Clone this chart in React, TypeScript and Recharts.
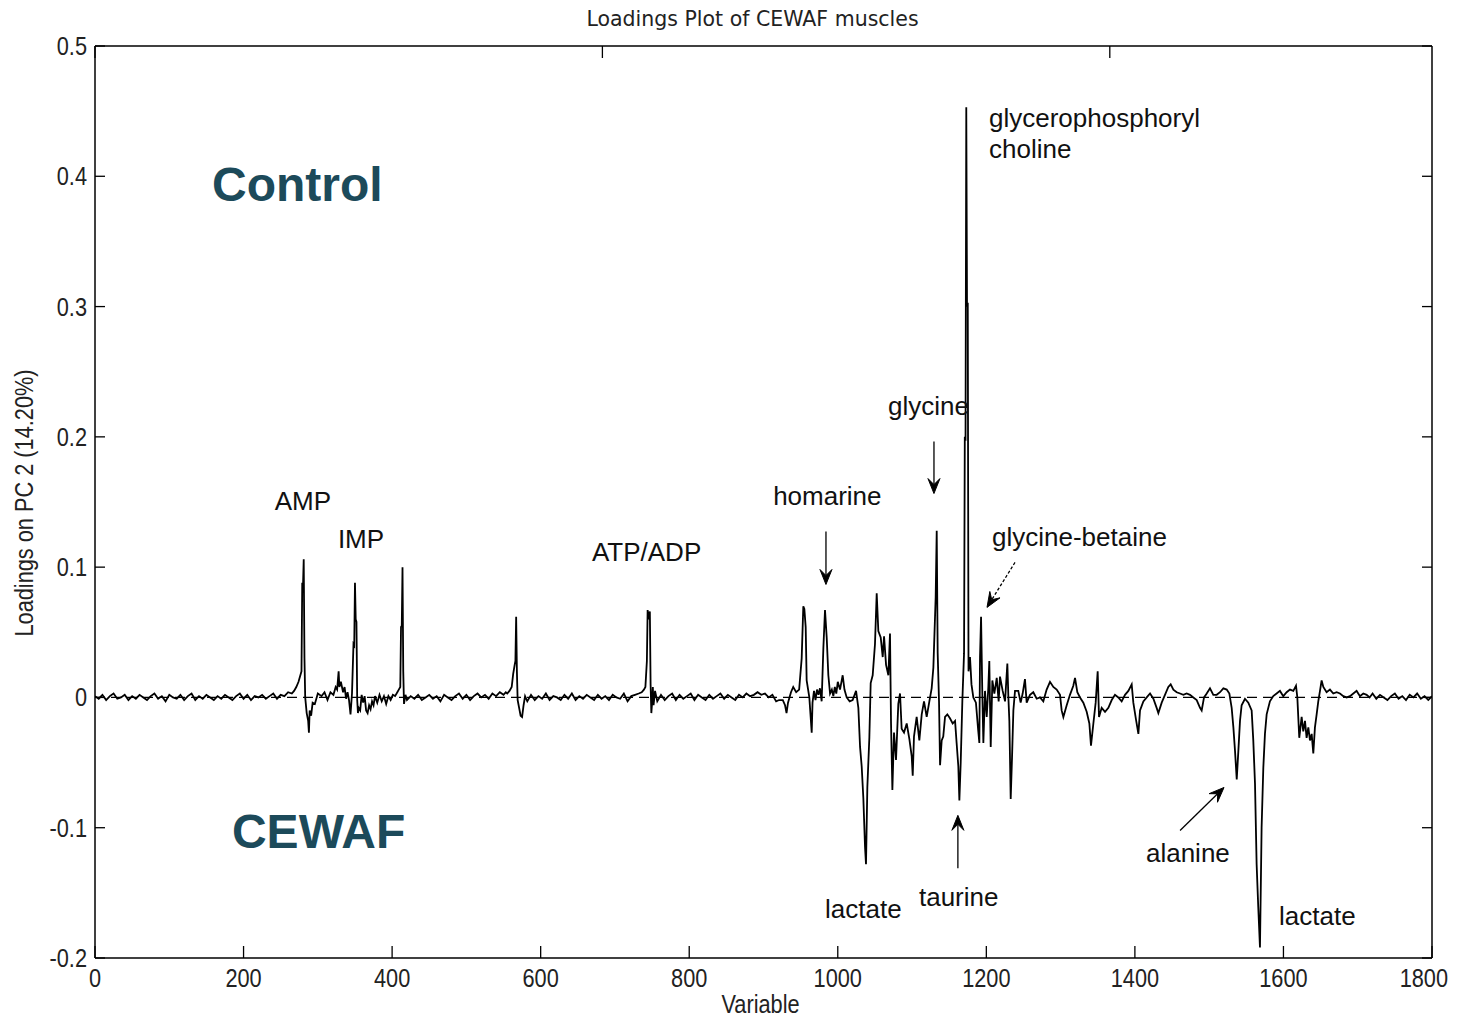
import React from 'react';
import { LineChart, Line, XAxis, YAxis, ReferenceLine, ReferenceDot } from 'recharts';

// ---------- tick values / labels ----------
const xTicks = [0, 200, 400, 600, 800, 1000, 1200, 1400, 1600, 1800];
const xTickLabels = ['0', '200', '400', '600', '800', '1000', '1200', '1400', '1600', '1800'];
const yTicks = [-0.2, -0.1, 0, 0.1, 0.2, 0.3, 0.4, 0.5];
const yTickLabels = ['-0.2', '-0.1', '0', '0.1', '0.2', '0.3', '0.4', '0.5'];

// ---------- loadings on PC2 [variable, loading] ----------
const quietStart: [number, number][] = [
  [0, 0.001], [5, -0.001], [10, 0.002], [15, -0.002], [20, 0.001], [25, 0.003], [30, -0.001], [35, 0], [40, 0.002], [45, -0.002],
  [50, 0.001], [55, -0.001], [60, 0.002], [65, 0], [70, -0.002], [75, 0.001], [80, 0.003], [85, -0.001], [90, 0.001], [95, -0.003],
  [100, 0.002], [105, 0], [110, -0.001], [115, 0.002], [120, -0.002], [125, 0.001], [130, 0.003], [135, -0.002], [140, 0.001], [145, -0.001],
  [150, 0.002], [155, 0], [160, -0.002], [165, 0.001], [170, -0.001], [175, 0.002], [180, 0], [185, -0.002], [190, 0.001], [195, 0.003],
  [200, -0.001], [205, 0.002], [210, -0.002], [215, 0.001], [220, 0], [225, 0.002], [230, -0.001], [235, 0.001], [240, 0.003], [245, -0.001],
  [250, 0.002], [255, 0.001], [260, 0.004], [265, 0.003],
];

const nucleotideRegion: [number, number][] = [
  [268, 0.005], [271, 0.008], [274, 0.012], [276, 0.016], [278, 0.02], [279, 0.088], [280, 0.085], [281, 0.106], [282, 0.03], [283, 0],
  [285, -0.012], [287, -0.018], [288, -0.027], [289, -0.01], [291, -0.014], [293, -0.004], [296, -0.005], [300, 0.003], [305, 0.001], [309, 0.004],
  [313, -0.002], [317, 0.004], [321, 0.002], [324, 0.008], [326, 0.006], [328, 0.02], [329, 0.008], [331, 0.012], [334, 0.004], [336, 0.008],
  [338, -0.001], [340, 0.004], [342, -0.002], [344, -0.013], [346, 0.003], [348, 0.041], [349, 0.04], [350, 0.088], [351, 0.06], [352, 0.058],
  [353, -0.002], [354, -0.012], [355, -0.008], [357, -0.01], [359, 0.002], [361, -0.004], [363, 0.001], [365, -0.01], [367, -0.012], [369, -0.006],
  [371, -0.009], [373, -0.003], [375, -0.006], [377, 0.001], [380, -0.004], [383, 0.002], [386, -0.003], [389, 0.001], [392, -0.005], [395, 0.001],
  [398, -0.002], [401, 0.002], [404, 0.001], [407, 0.004], [409, 0.006], [411, 0.008], [412, 0.054], [413, 0.055], [414, 0.1], [415, 0.02],
  [416, -0.005], [418, 0.002],
];

const quietMid1: [number, number][] = [
  [420, -0.002], [425, 0.001], [430, -0.001], [435, 0.002], [440, -0.002], [445, 0], [450, 0.002], [455, -0.001], [460, 0.001], [465, -0.003],
  [470, 0.002], [475, 0], [480, -0.002], [485, 0.001], [490, 0.003], [495, -0.001], [500, 0.002], [505, -0.002], [510, 0.001], [515, 0.003],
  [520, 0], [525, 0.002], [530, -0.001], [535, 0.003], [540, 0.001], [545, 0.004], [550, 0.002], [553, 0.004],
];

const peak567: [number, number][] = [
  [555, 0.003], [558, 0.005], [561, 0.008], [563, 0.018], [565, 0.025], [566, 0.028], [567, 0.062], [568, 0.02], [569, -0.002], [571, -0.008],
  [573, -0.014], [575, -0.015], [577, -0.006], [579, 0.001],
];

const quietMid2: [number, number][] = [
  [582, -0.003], [587, 0.002], [592, -0.002], [597, 0.001], [602, -0.001], [607, 0.003], [612, -0.002], [617, 0.001], [622, 0], [627, -0.002],
  [632, 0.002], [637, -0.001], [642, 0.003], [647, -0.002], [652, 0.001], [657, -0.001], [662, 0.002], [667, 0], [672, -0.002], [677, 0.002],
  [682, -0.001], [687, 0.001], [692, -0.002], [697, 0.002], [702, 0], [707, -0.001], [712, 0.003], [717, -0.003], [722, 0.001], [727, 0.002],
  [732, 0.003],
];

const atpRegion: [number, number][] = [
  [736, 0.004], [739, 0.006], [741, 0.008], [743, 0.028], [744, 0.067], [746, 0.06], [747, 0.066], [748, 0.01], [749, -0.012], [750, -0.004],
  [751, 0.008], [752, -0.006],
];

const quietMid3: [number, number][] = [
  [754, 0.005], [757, -0.003], [762, 0.002], [767, -0.002], [772, 0.001], [777, 0.003], [782, -0.002], [787, 0.002], [792, -0.001], [797, 0.001],
  [802, 0.003], [807, -0.002], [812, 0.002], [817, 0], [822, -0.002], [827, 0.002], [832, -0.001], [837, 0.001], [842, 0.003], [847, -0.001],
  [852, 0.002], [857, 0], [862, -0.002], [867, 0.002], [872, 0], [877, 0.003], [882, 0.001], [887, 0.002], [892, 0.004], [897, 0.002],
  [902, 0.003], [907, 0], [912, 0.002], [917, -0.003], [921, -0.002], [926, -0.002], [929, -0.006], [931, -0.012], [933, -0.004], [935, 0],
];

const muscleRegion: [number, number][] = [
  [937, 0.004], [940, 0.008], [944, 0.004], [948, 0.006], [951.4, 0.03], [953.6, 0.07], [955, 0.068], [956.8, 0.054], [958.1, 0.013], [961.7, 0],
  [964.9, -0.027], [966, -0.004], [968, 0.005], [970, -0.002], [972, 0.006], [974, 0.002], [976, 0.007], [978.3, -0.003], [980.6, 0.038], [982.8, 0.067],
  [985.1, 0.046], [987.3, 0.017], [989.6, 0.003], [992, 0.006], [994, 0.001], [996, 0.008], [998, 0.003], [1000, 0.012], [1003, 0.006], [1006.6, 0.017],
  [1009, 0.006], [1012, 0], [1016, -0.003], [1020, -0.002], [1024.6, 0.005], [1027.7, -0.008], [1030, -0.038], [1032.2, -0.053], [1034.4, -0.077], [1036.7, -0.115],
  [1038, -0.128], [1039.8, -0.069], [1042.5, -0.031], [1044.3, 0.011], [1047, 0.017], [1050.1, 0.041], [1052.4, 0.08], [1054.6, 0.051], [1057.8, 0.046], [1060.5, 0.031],
  [1062.3, 0.047], [1065, 0.025], [1068.1, 0.017], [1070.3, 0.049], [1071.7, -0.02], [1073.5, -0.071], [1075.7, -0.027], [1078.4, -0.048], [1081.5, -0.005], [1083.8, 0.003],
  [1086, -0.024], [1089.2, -0.027], [1092.8, -0.02], [1096.4, -0.032], [1099.5, -0.045], [1100.9, -0.06], [1102.6, -0.03], [1106.2, -0.015], [1109.8, -0.033], [1113, -0.013],
  [1116.1, -0.003], [1119.7, -0.015], [1123.3, -0.003], [1126.4, 0.007], [1128.7, 0.023], [1131.8, 0.077], [1133.2, 0.128], [1134.5, 0.034], [1136.3, -0.003], [1137.7, -0.052],
  [1139.9, -0.033], [1142, -0.03], [1144.4, -0.015], [1147.5, -0.013], [1151, -0.016], [1154.7, -0.02], [1157.9, -0.018], [1160, -0.035], [1162.3, -0.053], [1163.7, -0.079],
  [1165.5, -0.05], [1167.7, -0.003], [1170, 0.034], [1171, 0.2], [1172, 0.197], [1173, 0.453], [1174, 0.3], [1175, 0.303], [1176, 0.02], [1178, 0.031],
  [1180, 0.01], [1182.5, 0], [1186, -0.004], [1189, -0.025], [1190.6, -0.035], [1191.5, 0.031], [1192.9, 0.062], [1194.6, 0.003], [1196, -0.035], [1198.2, 0.005],
  [1200.5, -0.015], [1202.7, 0.008], [1204, 0.028], [1205.9, -0.038], [1208.1, 0.013], [1210.8, 0.003], [1214, 0.015], [1216.6, -0.003], [1218.4, 0.016], [1222, 0.005],
  [1225.2, -0.003], [1228.3, 0.026], [1229.7, 0], [1231, -0.018], [1232.8, -0.078], [1234.6, -0.046], [1236.4, -0.01], [1238.6, 0.005],
];

const lateRegion: [number, number][] = [
  [1243, 0.005], [1246.2, -0.004], [1248.9, 0.003], [1252, 0.014], [1254.3, -0.004], [1258.8, 0.002], [1263.2, 0.004], [1267.8, -0.001], [1272.3, 0], [1276.7, -0.003],
  [1281.2, 0.006], [1285.7, 0.012], [1290.2, 0.008], [1294.7, 0.006], [1299.2, 0.002], [1301.4, -0.01], [1303.7, -0.015], [1308.2, -0.006], [1312.6, 0.002], [1317.1, 0.009],
  [1319.4, 0.015], [1322.5, 0.004], [1326.1, 0], [1330.6, -0.004], [1335.1, -0.011], [1338.7, -0.02], [1340.9, -0.037], [1344.1, -0.02], [1347.2, -0.004], [1349.9, 0.02],
  [1351.7, -0.015], [1355.3, -0.008], [1359.8, -0.011], [1364.3, -0.008], [1368.8, -0.002], [1373.2, 0.002], [1377.7, 0], [1382.2, -0.003], [1386.7, 0.002], [1391.2, 0.005],
  [1395.7, 0.01], [1397.9, -0.004], [1401.5, -0.017], [1404.7, -0.028], [1406.9, -0.01], [1411.4, -0.003], [1415.9, 0], [1420.4, 0.003], [1424.9, -0.001], [1429.3, -0.008],
  [1431.6, -0.012], [1436.1, -0.004], [1440.5, 0.002], [1445, 0.008], [1448.2, 0.01], [1451.8, 0.006], [1456.3, 0.004], [1460.8, 0.003], [1465.2, 0.002], [1469.7, 0.003],
  [1474.2, 0.002], [1478.7, 0], [1483.2, -0.002], [1487.7, -0.008], [1489.9, -0.01], [1493.1, 0], [1496.7, 0.003], [1501.1, 0.007], [1505.6, 0.002], [1510.1, 0.002],
  [1514.6, 0.004], [1519.1, 0.007], [1523.6, 0.006], [1527.2, 0.003], [1530.3, -0.008], [1532.6, -0.023], [1534.8, -0.041], [1537.1, -0.063], [1539.3, -0.041], [1541.5, -0.018],
  [1543.7, -0.006], [1548.2, -0.001], [1552.7, -0.004], [1557.2, -0.01], [1559.4, -0.033], [1561.7, -0.066], [1563.9, -0.128], [1566.1, -0.161], [1568.4, -0.192], [1570.6, -0.1],
  [1572.9, -0.054], [1575.1, -0.028], [1577.4, -0.013], [1581.8, -0.003], [1586.3, 0.001], [1590.8, 0.003], [1595.3, 0.005], [1599.8, 0.001], [1604.3, 0.004], [1608.8, 0.006],
  [1613.3, 0.005], [1616.9, 0.009], [1618.7, 0], [1621.3, -0.031], [1624.5, -0.015], [1626.7, -0.026], [1629, -0.018], [1631.2, -0.031], [1633.5, -0.023], [1635.7, -0.033],
  [1638, -0.028], [1640.2, -0.043], [1642.4, -0.023], [1644.7, -0.013], [1646.9, -0.003], [1649.2, 0.005], [1651.4, 0.013], [1653.7, 0.008], [1658.1, 0.004], [1662.6, 0.006],
  [1667.1, 0.003], [1671.6, 0.004], [1676.1, 0.003], [1680.6, 0.001], [1685.1, 0], [1689.6, 0.001], [1694.1, 0.003], [1698.5, 0.005], [1703, 0.001], [1707.5, 0.003],
];

const quietEnd: [number, number][] = [
  [1712, 0.002], [1716, 0], [1720, 0.003], [1725, -0.001], [1730, 0.002], [1735, 0], [1740, -0.002], [1745, 0.001], [1750, 0.003], [1755, -0.001],
  [1760, 0.001], [1765, -0.002], [1770, 0.002], [1775, 0], [1780, 0.003], [1785, -0.001], [1790, 0.001], [1795, -0.002], [1800, 0.001],
];

// ---------- annotations (data coordinates) ----------
const metaboliteLabels = [
  { text: 'AMP', v: 242, y: 0.1435 },
  { text: 'IMP', v: 327, y: 0.1144 },
  { text: 'ATP/ADP', v: 669, y: 0.1044 },
  { text: 'homarine', v: 913, y: 0.148 },
  { text: 'glycine', v: 1067.6, y: 0.217 },
  { text: 'glycerophosphoryl', v: 1203.6, y: 0.4375 },
  { text: 'choline', v: 1203.6, y: 0.4144 },
  { text: 'glycine-betaine', v: 1207.6, y: 0.1159 },
  { text: 'lactate', v: 982.8, y: -0.1696 },
  { text: 'taurine', v: 1109.3, y: -0.1604 },
  { text: 'alanine', v: 1414.9, y: -0.1266 },
  { text: 'lactate', v: 1594, y: -0.175 },
];
const groupLabels = [
  { text: 'Control', v: 157.5, y: 0.3807 },
  { text: 'CEWAF', v: 184.4, y: -0.1159 },
];
const arrows = [
  { from: [984.1, 0.1274], to: [984.1, 0.0867], dashed: false },
  { from: [1129.5, 0.1964], to: [1129.5, 0.1565], dashed: false },
  { from: [1238.6, 0.1036], to: [1200.9, 0.0691], dashed: true },
  { from: [1161.7, -0.1312], to: [1161.7, -0.0905], dashed: false },
  { from: [1460.8, -0.1022], to: [1520, -0.0691], dashed: false },
];

const data = [
  ...quietStart, ...nucleotideRegion, ...quietMid1, ...peak567, ...quietMid2, ...atpRegion,
  ...quietMid3, ...muscleRegion, ...lateRegion, ...quietEnd,
].map(([v, y]) => ({ v, y }));

const SANS = "'Liberation Sans', Arial, sans-serif";
const NARROW_SCALE = 0.87;

// condensed-looking axis text (Liberation Sans squeezed horizontally)
const NarrowText = ({ x, y, anchor, rotate, children }: any) => (
  <g transform={`translate(${x},${y})${rotate ? ' rotate(-90)' : ''} scale(${NARROW_SCALE},1)`}>
    <text x={0} y={0} textAnchor={anchor} fontFamily={SANS} fontSize={25} fill="#222">
      {children}
    </text>
  </g>
);

const BottomTick = (p: any) => {
  const i = xTicks.indexOf(p.payload.value);
  const last = i === xTicks.length - 1;
  return (
    <g>
      <line x1={p.x} y1={p.y} x2={p.x} y2={p.y - 12} stroke="#000" strokeWidth={1.3} />
      <NarrowText x={last ? p.x + 16 : p.x} y={p.y + 29} anchor={last ? 'end' : 'middle'}>{xTickLabels[i]}</NarrowText>
    </g>
  );
};
const TopTick = (p: any) => (
  <line x1={p.x} y1={p.y} x2={p.x} y2={p.y + 12} stroke="#000" strokeWidth={1.3} />
);
const LeftTick = (p: any) => {
  const i = yTicks.indexOf(p.payload.value);
  return (
    <g>
      <line x1={p.x} y1={p.y} x2={p.x + 10} y2={p.y} stroke="#000" strokeWidth={1.3} />
      <NarrowText x={p.x - 8} y={p.y + 9} anchor="end">{yTickLabels[i]}</NarrowText>
    </g>
  );
};
const RightTick = (p: any) => (
  <line x1={p.x} y1={p.y} x2={p.x - 10} y2={p.y} stroke="#000" strokeWidth={1.3} />
);

const makeArrow = (dashed: boolean) => (p: any) => {
  const { x1, y1, x2, y2 } = p;
  const ang = Math.atan2(y2 - y1, x2 - x1);
  const L = 15;
  const W = 6;
  const c = Math.cos(ang);
  const s = Math.sin(ang);
  const bx = x2 - L * c;
  const by = y2 - L * s;
  const mx = x2 - L * 0.6 * c;
  const my = y2 - L * 0.6 * s;
  const d = `M${x2},${y2} L${bx - s * W},${by + c * W} L${mx},${my} L${bx + s * W},${by - c * W} Z`;
  return (
    <g>
      <line x1={x1} y1={y1} x2={mx} y2={my} stroke="#000" strokeWidth={1.3} strokeDasharray={dashed ? '3 2' : undefined} />
      <path d={d} fill="#000" stroke="#000" strokeWidth={1} />
    </g>
  );
};
const SolidArrow = makeArrow(false);
const DashedArrow = makeArrow(true);

export default function App() {
  return (
    <>
      <style>{'html,body{overflow:hidden;}'}</style>
      <LineChart
        width={1480}
        height={1020}
        data={data}
        margin={{ top: 37, right: 55, bottom: 69, left: 86 }}
        style={{ background: '#fff' }}
      >
        <XAxis
          dataKey="v"
          type="number"
          domain={[0, 1800]}
          ticks={xTicks}
          interval={0}
          allowDataOverflow
          height={1}
          tickSize={0}
          tickMargin={0}
          tickLine={false}
          axisLine={{ stroke: '#000', strokeWidth: 1.5 }}
          tick={(p: any) => <BottomTick {...p} />}
          label={(p: any) => {
            const vb = p.viewBox;
            return (
              <NarrowText x={vb.x + vb.width / 2 - 3} y={vb.y + 55} anchor="middle">Variable</NarrowText>
            );
          }}
        />
        <XAxis
          xAxisId="top"
          orientation="top"
          type="number"
          domain={[0, 1800]}
          ticks={xTicks}
          interval={0}
          allowDataOverflow
          height={1}
          tickSize={0}
          tickMargin={0}
          tickLine={false}
          axisLine={{ stroke: '#000', strokeWidth: 1.5 }}
          tick={(p: any) => <TopTick {...p} />}
          label={(p: any) => {
            const vb = p.viewBox;
            return (
              <text x={vb.x + vb.width / 2 - 11} y={vb.y - 19} textAnchor="middle" fontFamily="'DejaVu Sans', sans-serif" fontSize={20.5} fill="#222">
                Loadings Plot of CEWAF muscles
              </text>
            );
          }}
        />
        <YAxis
          type="number"
          domain={[-0.2, 0.5]}
          ticks={yTicks}
          interval={0}
          allowDataOverflow
          width={1}
          tickSize={0}
          tickMargin={0}
          tickLine={false}
          axisLine={{ stroke: '#000', strokeWidth: 1.5 }}
          tick={(p: any) => <LeftTick {...p} />}
          label={(p: any) => {
            const vb = p.viewBox;
            return (
              <NarrowText x={vb.x - 61} y={vb.y + vb.height / 2 + 1} anchor="middle" rotate>
                Loadings on PC 2 (14.20%)
              </NarrowText>
            );
          }}
        />
        <YAxis
          yAxisId="right"
          orientation="right"
          type="number"
          domain={[-0.2, 0.5]}
          ticks={yTicks}
          interval={0}
          allowDataOverflow
          width={1}
          tickSize={0}
          tickMargin={0}
          tickLine={false}
          axisLine={{ stroke: '#000', strokeWidth: 1.5 }}
          tick={(p: any) => <RightTick {...p} />}
        />
        <ReferenceLine y={0} stroke="#000" strokeWidth={1.2} strokeDasharray="10 6" />
        <Line
          dataKey="y"
          type="linear"
          stroke="#000"
          strokeWidth={1.8}
          dot={false}
          activeDot={false}
          isAnimationActive={false}
        />
        {arrows.map((a, i) => (
          <ReferenceLine
            key={`arrow-${i}`}
            segment={[{ x: a.from[0], y: a.from[1] }, { x: a.to[0], y: a.to[1] }]}
            shape={a.dashed ? DashedArrow : SolidArrow}
          />
        ))}
        {metaboliteLabels.map((l, i) => (
          <ReferenceDot
            key={`lab-${i}`}
            x={l.v}
            y={l.y}
            r={0}
            shape={(p: any) => (
              <text x={p.cx} y={p.cy} textAnchor="start" fontFamily={SANS} fontSize={26} fill="#111">
                {l.text}
              </text>
            )}
          />
        ))}
        {groupLabels.map((l, i) => (
          <ReferenceDot
            key={`grp-${i}`}
            x={l.v}
            y={l.y}
            r={0}
            shape={(p: any) => (
              <text x={p.cx} y={p.cy} textAnchor="start" fontFamily={SANS} fontWeight="bold" fontSize={48} fill="#1c4a5a">
                {l.text}
              </text>
            )}
          />
        ))}
      </LineChart>
    </>
  );
}
